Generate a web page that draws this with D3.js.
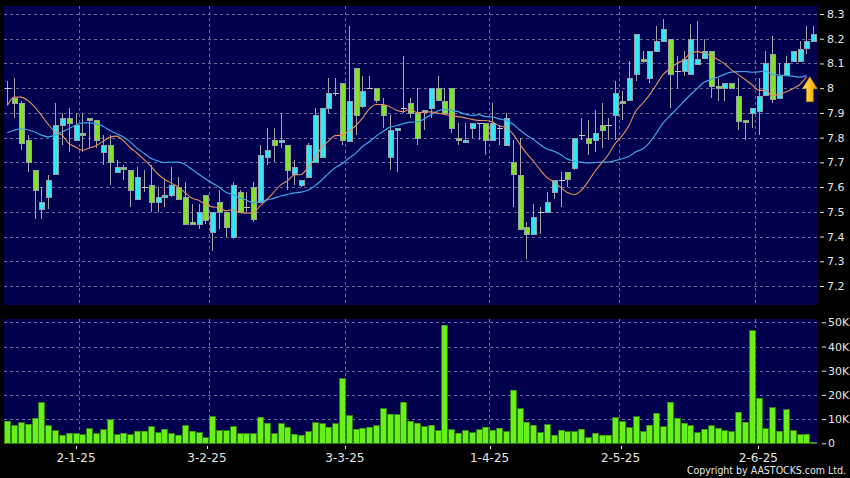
<!DOCTYPE html>
<html><head><meta charset="utf-8">
<script src="https://cdn.jsdelivr.net/npm/d3@7"></script>
<style>html,body{margin:0;padding:0;background:#000;}svg{display:block}</style>
</head><body><svg id="c" width="850" height="478"></svg>
<script>
// ---- DATA ----
const dates = [
 "2024-12-13","2024-12-16","2024-12-17","2024-12-18","2024-12-19","2024-12-20","2024-12-23","2024-12-24","2024-12-27","2024-12-30","2024-12-31",
 "2025-01-02","2025-01-03","2025-01-06","2025-01-07","2025-01-08","2025-01-09","2025-01-10","2025-01-13","2025-01-14","2025-01-15","2025-01-16","2025-01-17","2025-01-20","2025-01-21","2025-01-22","2025-01-23","2025-01-24","2025-01-27","2025-01-28",
 "2025-02-03","2025-02-04","2025-02-05","2025-02-06","2025-02-07","2025-02-10","2025-02-11","2025-02-12","2025-02-13","2025-02-14","2025-02-17","2025-02-18","2025-02-19","2025-02-20","2025-02-21","2025-02-24","2025-02-25","2025-02-26","2025-02-27","2025-02-28",
 "2025-03-03","2025-03-04","2025-03-05","2025-03-06","2025-03-07","2025-03-10","2025-03-11","2025-03-12","2025-03-13","2025-03-14","2025-03-17","2025-03-18","2025-03-19","2025-03-20","2025-03-21","2025-03-24","2025-03-25","2025-03-26","2025-03-27","2025-03-28","2025-03-31",
 "2025-04-01","2025-04-02","2025-04-03","2025-04-07","2025-04-08","2025-04-09","2025-04-10","2025-04-11","2025-04-14","2025-04-15","2025-04-16","2025-04-17","2025-04-22","2025-04-23","2025-04-24","2025-04-25","2025-04-28","2025-04-29","2025-04-30",
 "2025-05-02","2025-05-06","2025-05-07","2025-05-08","2025-05-09","2025-05-12","2025-05-13","2025-05-14","2025-05-15","2025-05-16","2025-05-19","2025-05-20","2025-05-21","2025-05-22","2025-05-23","2025-05-26","2025-05-27","2025-05-28","2025-05-29","2025-05-30",
 "2025-06-02","2025-06-03","2025-06-04","2025-06-05","2025-06-06","2025-06-09","2025-06-10","2025-06-11","2025-06-12"
];
const open = [
 8.00,7.96,7.94,7.79,7.67,7.51,7.56,7.65,7.85,7.88,
 7.79,7.82,7.88,7.87,7.74,7.77,7.66,7.68,7.67,7.55,
 7.60,7.61,7.54,7.56,7.57,7.60,7.56,7.46,7.45,7.57,
 7.42,7.54,7.50,7.40,7.58,7.52,7.60,7.54,7.72,7.79,
 7.78,7.77,7.65,7.61,7.64,7.70,7.72,7.92,7.98,8.02,
 7.79,8.08,7.93,8.00,8.00,7.93,7.72,7.83,7.92,7.94,
 7.90,7.90,7.92,8.00,7.95,8.00,7.80,7.78,7.84,7.86,
 7.86,7.79,7.84,7.77,7.70,7.65,7.44,7.41,7.50,7.50,
 7.58,7.63,7.66,7.68,7.81,7.80,7.79,7.85,7.85,7.89,
 7.95,7.95,8.06,8.12,8.04,8.15,8.19,8.20,8.07,8.07,
 8.06,8.10,8.12,8.15,8.01,8.00,8.02,7.97,7.87,7.90,
 7.91,7.97,8.14,7.96,8.05,8.11,8.11,8.16,8.19
];
const high = [
 8.03,8.04,7.95,7.81,7.67,7.60,7.65,7.94,7.90,7.92,
 7.90,7.90,7.88,7.87,7.81,7.81,7.71,7.69,7.67,7.68,
 7.67,7.69,7.60,7.63,7.68,7.64,7.62,7.53,7.53,7.57,
 7.50,7.59,7.50,7.62,7.59,7.58,7.62,7.77,7.84,7.84,
 7.90,7.77,7.71,7.63,7.78,7.92,7.92,8.04,8.04,8.02,
 8.25,8.08,8.05,8.05,8.00,7.96,7.89,7.84,8.13,7.96,
 8.00,7.91,8.00,8.05,8.00,8.00,7.86,7.86,7.86,7.86,
 7.86,7.94,7.85,7.90,7.79,7.80,7.46,7.53,7.52,7.58,
 7.63,7.66,7.66,7.80,7.88,7.87,7.91,7.94,7.88,8.03,
 7.99,8.11,8.22,8.15,8.15,8.25,8.28,8.20,8.13,8.15,
 8.26,8.27,8.20,8.15,8.04,8.02,8.02,8.04,7.87,7.92,
 8.04,8.15,8.21,8.10,8.13,8.15,8.19,8.25,8.25
];
const low = [
 7.93,7.88,7.75,7.66,7.47,7.47,7.51,7.65,7.77,7.74,
 7.79,7.74,7.76,7.76,7.69,7.61,7.66,7.63,7.52,7.55,
 7.58,7.50,7.50,7.52,7.56,7.55,7.45,7.45,7.43,7.45,
 7.34,7.43,7.40,7.39,7.50,7.50,7.46,7.54,7.69,7.70,
 7.76,7.59,7.61,7.60,7.64,7.70,7.72,7.90,7.97,7.77,
 7.79,7.81,7.92,8.00,7.94,7.84,7.67,7.66,7.90,7.88,
 7.77,7.83,7.88,7.95,7.90,7.82,7.77,7.78,7.80,7.79,
 7.73,7.79,7.77,7.77,7.52,7.43,7.31,7.41,7.41,7.50,
 7.55,7.52,7.60,7.67,7.79,7.73,7.74,7.76,7.79,7.79,
 7.87,7.95,8.03,8.10,8.02,8.15,8.19,7.92,8.00,8.05,
 8.06,8.10,8.12,7.96,7.95,7.95,8.00,7.83,7.79,7.84,
 7.81,7.97,7.94,7.96,8.05,8.11,8.11,8.14,8.19
];
const close = [
 8.00,7.94,7.78,7.70,7.59,7.54,7.63,7.85,7.88,7.86,
 7.85,7.81,7.87,7.79,7.77,7.70,7.68,7.67,7.59,7.64,
 7.60,7.54,7.56,7.57,7.61,7.55,7.45,7.45,7.50,7.47,
 7.50,7.50,7.44,7.61,7.50,7.52,7.47,7.73,7.75,7.77,
 7.79,7.67,7.68,7.63,7.77,7.89,7.92,7.98,7.98,7.79,
 7.95,7.89,7.99,8.00,7.95,7.89,7.83,7.84,7.92,7.90,
 7.80,7.91,8.00,7.95,7.90,7.84,7.79,7.79,7.86,7.86,
 7.79,7.86,7.84,7.88,7.65,7.43,7.41,7.48,7.50,7.54,
 7.63,7.63,7.63,7.80,7.81,7.78,7.82,7.83,7.85,7.98,
 7.94,8.04,8.22,8.11,8.15,8.19,8.24,8.06,8.07,8.12,
 8.20,8.12,8.15,8.01,8.00,8.02,8.00,7.87,7.86,7.92,
 7.97,8.10,7.96,8.05,8.10,8.15,8.16,8.19,8.22
];
// volume in thousands of shares
const volumeK = [
 9.2,7.3,8.5,7.85,10.3,16.7,7.2,5.1,3.4,4.1,3.9,3.6,6.1,4.0,5.5,9.8,3.6,4.1,3.6,5.0,
 5.0,6.9,4.3,5.8,4.0,3.3,7.2,5.0,4.4,2.3,10.9,5.1,5.1,6.9,3.9,4.0,3.9,10.7,8.3,3.9,
 8.0,6.6,3.7,3.4,4.8,8.5,8.0,6.7,8.1,26.6,11.4,5.9,6.2,6.7,7.3,14.3,12.1,11.7,16.9,9.2,
 8.3,6.9,7.4,5.1,48.8,5.6,4.1,5.2,4.3,5.6,6.7,5.4,6.3,4.7,21.9,14.2,8.7,7.4,4.4,7.6,
 3.4,5.4,4.8,4.8,5.9,2.2,4.1,3.4,3.3,10.5,9.0,6.5,10.9,4.7,7.4,12.5,6.9,16.9,10.3,8.3,
 7.2,4.4,5.8,7.2,6.2,5.2,4.7,12.9,8.8,46.6,18.7,6.1,14.6,5.0,13.9,5.1,3.6,3.7,0.5
];
const ma10Head = [7.93,7.964,7.964,7.95,7.924,7.89,7.854,7.823,7.81];
const ma20Head = [7.82,7.83,7.836,7.832,7.823,7.81,7.803,7.81,7.823,7.836,7.85,7.86,7.86,7.857,7.846,7.83,7.816,7.803,7.783];
const priceTicks = [8.3,8.2,8.1,8.0,7.9,7.8,7.7,7.6,7.5,7.4,7.3,7.2];
const volumeTicks = [0,10,20,30,40,50];
const monthTicks = ["2025-01-02","2025-02-03","2025-03-03","2025-04-01","2025-05-02","2025-06-02"];

// ---- CHART ----
const svg = d3.select("#c");
const FONT = "DejaVu Sans, Verdana, sans-serif";
const BG = "#00004f", GRID = "#6a6a9c", TXT = "#e6e6e6";
const UP = "#2ee8f6", DOWN = "#7fe326", WICK = "#a4a4a4";

svg.append("rect").attr("width",850).attr("height",478).attr("fill","#000");

const x = d3.scaleBand().domain(dates).range([3.9, 816.7]).paddingInner(0);
const cx = d => x(d) + x.bandwidth()/2;
const xLab = d3.scalePoint().domain(dates).range([0.2, 813.5]);   // date-label positions
const y = d3.scaleLinear().domain([7.2, 8.3]).range([286, 14]);
const yv = d3.scaleLinear().domain([0, 50]).range([443.3, 322.3]);

const P = {x:4, y:6, w:814, h:299};
const V = {x:4, y:319, w:814, h:125};

svg.append("rect").attr("x",P.x).attr("y",P.y).attr("width",P.w).attr("height",P.h).attr("fill",BG);
svg.append("rect").attr("x",V.x).attr("y",V.y).attr("width",V.w).attr("height",V.h).attr("fill",BG);

const grid = svg.append("g").attr("stroke",GRID).attr("stroke-width",1).attr("stroke-dasharray","3,3").attr("shape-rendering","crispEdges");
priceTicks.forEach(t => grid.append("line").attr("x1",P.x).attr("x2",P.x+P.w).attr("y1",Math.round(y(t))+0.5).attr("y2",Math.round(y(t))+0.5));
volumeTicks.filter(t=>t>0).forEach(t => grid.append("line").attr("x1",V.x).attr("x2",V.x+V.w).attr("y1",Math.round(yv(t))+0.5).attr("y2",Math.round(yv(t))+0.5));
monthTicks.forEach(d => {
  const gx = Math.round(x(d))+0.5;
  grid.append("line").attr("x1",gx).attr("x2",gx).attr("y1",P.y).attr("y2",P.y+P.h);
  grid.append("line").attr("x1",gx).attr("x2",gx).attr("y1",V.y).attr("y2",V.y+V.h);
});

// candles
const candles = dates.map((d,i)=>({d, o:open[i], h:high[i], l:low[i], c:close[i], v:volumeK[i]}));
const cg = svg.append("g").attr("shape-rendering","crispEdges");
const bw = 5;
candles.forEach(k => {
  const px = Math.round(cx(k.d)) + 0.5;
  cg.append("line").attr("x1",px).attr("x2",px).attr("y1",y(k.h)).attr("y2",y(k.l)).attr("stroke",WICK).attr("stroke-width",1);
  if (k.o === k.c) {
    cg.append("line").attr("x1",px-3).attr("x2",px+3).attr("y1",Math.round(y(k.c))+0.5).attr("y2",Math.round(y(k.c))+0.5).attr("stroke","#c8c8c8").attr("stroke-width",1);
  } else {
    const top = y(Math.max(k.o,k.c)), bot = y(Math.min(k.o,k.c));
    cg.append("rect").attr("x",px-bw/2).attr("y",Math.round(top)+0.5)
      .attr("width",bw).attr("height",Math.max(1,Math.round(bot-top)))
      .attr("fill", k.c > k.o ? UP : DOWN).attr("stroke","#9aa0a8").attr("stroke-width",1);
  }
});

// moving averages (10 & 20 day), drawn to the second-to-last session
const maCalc = (period, head) => close.slice(0, close.length-1).map((c,i) =>
  i < period-1 ? head[i] : d3.mean(close.slice(i-period+1, i+1)));
const ma10 = maCalc(10, ma10Head), ma20 = maCalc(20, ma20Head);
const lineGen = d3.line().x((v,i)=>cx(dates[i])).y(v=>y(v)).curve(d3.curveMonotoneX);
svg.append("path").attr("d",lineGen(ma20)).attr("fill","none").attr("stroke","#3ea6e6").attr("stroke-width",1.2);
svg.append("path").attr("d",lineGen(ma10)).attr("fill","none").attr("stroke","#e0915c").attr("stroke-width",1.1);

// up-arrow marker
const defs = svg.append("defs");
const gr = defs.append("linearGradient").attr("id","ag").attr("x1",0).attr("x2",1).attr("y1",0).attr("y2",0);
gr.append("stop").attr("offset","0%").attr("stop-color","#ffe96a");
gr.append("stop").attr("offset","55%").attr("stop-color","#ffc21a");
gr.append("stop").attr("offset","100%").attr("stop-color","#d98e00");
const ax = x(dates[dates.length-1]), ay = y(ma10[ma10.length-1]);
svg.append("path")
  .attr("d", `M${ax},${ay} L${ax+7.5},${ay+12} L${ax+3.5},${ay+12} L${ax+3.5},${ay+25} L${ax-3.5},${ay+25} L${ax-3.5},${ay+12} L${ax-7.5},${ay+12} Z`)
  .attr("fill","url(#ag)").attr("stroke","#b87800").attr("stroke-width",0.6);

// volume bars
const vg = svg.append("g").attr("shape-rendering","crispEdges");
candles.forEach(k => {
  const px = Math.round(cx(k.d));
  vg.append("rect").attr("x",px-2.5).attr("y",yv(k.v)).attr("width",5.5).attr("height",Math.max(0.5,yv(0)-yv(k.v)))
    .attr("fill","#68f019").attr("stroke","#3b9a0c").attr("stroke-width",0.8);
});

// right axes
const pAxis = svg.append("g").attr("transform","translate(820,0)")
  .call(d3.axisRight(y).tickValues(priceTicks).tickSize(4).tickPadding(3).tickFormat(d=>d3.format(".1f")(d).replace(/\.0$/,"")));
const vAxis = svg.append("g").attr("transform","translate(822,0)")
  .call(d3.axisRight(yv).tickValues(volumeTicks).tickSize(4).tickPadding(2).tickFormat(d=>d===0?"0":d+"K"));
[pAxis,vAxis].forEach(a => {
  a.select(".domain").remove();
  a.selectAll(".tick line").attr("stroke",TXT);
  a.selectAll(".tick text").attr("fill",TXT).style("font-family",FONT).style("font-size","11px");
});

// date labels
const bx = svg.append("g");
monthTicks.forEach(d => {
  const tx = xLab(d);
  bx.append("line").attr("x1",Math.round(tx)+0.5).attr("x2",Math.round(tx)+0.5).attr("y1",446).attr("y2",449).attr("stroke",TXT);
  bx.append("text").attr("x",tx).attr("y",462).attr("text-anchor","middle")
    .attr("fill",TXT).style("font-family",FONT).style("font-size","12px")
    .text(d3.timeFormat("%-d-%-m-%y")(d3.timeParse("%Y-%m-%d")(d)));
});

svg.append("text").attr("x",846).attr("y",473.5).attr("text-anchor","end")
  .attr("fill",TXT).style("font-family","'DejaVu Sans Condensed', 'DejaVu Sans', sans-serif")
  .style("font-stretch","condensed").style("font-size","10.5px")
  .text("Copyright by AASTOCKS.com Ltd.");
</script>
</body></html>
